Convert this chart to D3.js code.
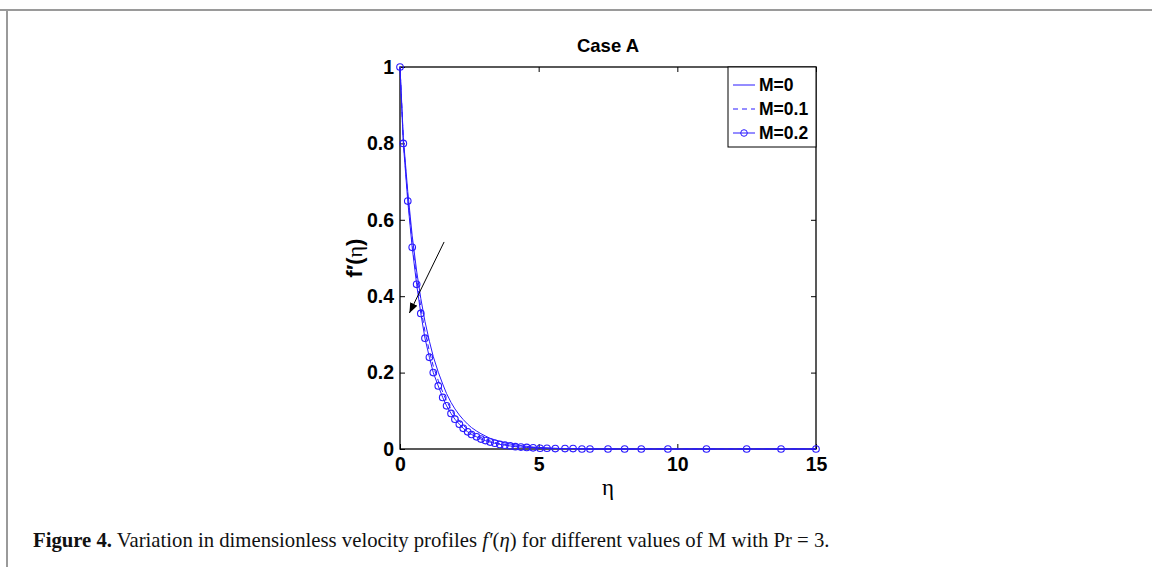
<!DOCTYPE html>
<html><head><meta charset="utf-8">
<script src="https://cdn.jsdelivr.net/npm/d3@7"></script>
<style>
html,body{margin:0;padding:0;background:#fff;}
svg{display:block;}
</style></head>
<body>
<svg id="chart" width="1152" height="567"></svg>
<script>
// ---- data ----
const eta = [0, 0.12, 0.28, 0.44, 0.60, 0.75, 0.90, 1.06, 1.20, 1.38, 1.54, 1.68, 1.84, 1.98, 2.14, 2.28, 2.44, 2.58, 2.76, 2.92, 3.08, 3.25, 3.42, 3.60, 3.78, 3.97, 4.16, 4.36, 4.57, 4.80, 5.05, 5.30, 5.60, 5.95, 6.24, 6.56, 6.85, 7.50, 8.10, 8.70, 9.66, 11.05, 12.50, 13.74, 15.00];
const fM0  = [1, 0.815, 0.674, 0.558, 0.466, 0.394, 0.334, 0.282, 0.242, 0.201, 0.170, 0.145, 0.122, 0.105, 0.089, 0.077, 0.065, 0.056, 0.047, 0.040, 0.034, 0.028, 0.024, 0.020, 0.016, 0.013, 0.011, 0.009, 0.007, 0.005, 0.004, 0.003, 0.002, 0.001, 0.001, 0.001, 0, 0, 0, 0, 0, 0, 0, 0, 0];
const fM01 = [1, 0.807, 0.660, 0.541, 0.446, 0.371, 0.308, 0.256, 0.217, 0.179, 0.149, 0.125, 0.104, 0.088, 0.073, 0.062, 0.052, 0.044, 0.036, 0.030, 0.025, 0.021, 0.017, 0.014, 0.012, 0.009, 0.008, 0.006, 0.005, 0.004, 0.003, 0.002, 0.001, 0.001, 0.001, 0, 0, 0, 0, 0, 0, 0, 0, 0, 0];
const fM02 = [1, 0.800, 0.649, 0.528, 0.431, 0.355, 0.290, 0.240, 0.200, 0.165, 0.135, 0.113, 0.093, 0.078, 0.065, 0.054, 0.045, 0.038, 0.032, 0.026, 0.022, 0.018, 0.015, 0.012, 0.010, 0.008, 0.006, 0.005, 0.004, 0.003, 0.002, 0.002, 0.001, 0.001, 0.001, 0, 0, 0, 0, 0, 0, 0, 0, 0, 0];
const seriesNames = ["M=0", "M=0.1", "M=0.2"];
const xTicks = [0, 5, 10, 15];
const yTicks = [0, 0.2, 0.4, 0.6, 0.8, 1];
const yTickLabels = ["0", "0.2", "0.4", "0.6", "0.8", "1"];
const arrowFrom = [1.59, 0.542];
const arrowTo = [0.34, 0.356];
const titleText = "Case A";

// ---- layout ----
const svg = d3.select("#chart");
const L = 400, R = 816, T = 67, B = 449;
const x = d3.scaleLinear().domain([0, 15]).range([L, R]);
const y = d3.scaleLinear().domain([0, 1]).range([B, T]);
const blue = "#2a1aff";
const helv = "'Liberation Sans', Arial, Helvetica, sans-serif";
const serif = "'Liberation Serif', 'Times New Roman', serif";

// figure frame (gray)
svg.append("line").attr("x1", 0).attr("x2", 1152).attr("y1", 10).attr("y2", 10).attr("stroke", "#9a9a9a").attr("stroke-width", 2);
svg.append("line").attr("x1", 7).attr("x2", 7).attr("y1", 9).attr("y2", 567).attr("stroke", "#9a9a9a").attr("stroke-width", 2);

// axes box
const g = svg.append("g");
g.append("rect").attr("x", L).attr("y", T).attr("width", R - L).attr("height", B - T)
  .attr("fill", "none").attr("stroke", "#000").attr("stroke-width", 1.3);

const tickLen = 5;
const xb = d3.axisBottom(x).tickValues(xTicks).tickSizeInner(-tickLen).tickSizeOuter(0).tickPadding(8).tickFormat(d3.format("d"));
const xt = d3.axisTop(x).tickValues(xTicks).tickSizeInner(-tickLen).tickSizeOuter(0).tickFormat("");
const yl = d3.axisLeft(y).tickValues(yTicks).tickSizeInner(-tickLen).tickSizeOuter(0).tickPadding(6).tickFormat((d, i) => yTickLabels[i]);
const yr = d3.axisRight(y).tickValues(yTicks).tickSizeInner(-tickLen).tickSizeOuter(0).tickFormat("");

function styleAxis(sel) {
  sel.select(".domain").remove();
  sel.selectAll(".tick line").attr("stroke", "#000").attr("stroke-width", 1);
  sel.selectAll(".tick text").attr("font-family", helv).attr("font-weight", "bold").attr("font-size", 19.5).attr("fill", "#000");
}
g.append("g").attr("transform", `translate(0,${B})`).call(xb).call(styleAxis);
g.append("g").attr("transform", `translate(0,${T})`).call(xt).call(styleAxis);
g.append("g").attr("transform", `translate(${L},0)`).call(yl).call(styleAxis);
g.append("g").attr("transform", `translate(${R},0)`).call(yr).call(styleAxis);

// curves
const line = d3.line().x(d => x(d[0])).y(d => y(d[1]));
const s0 = eta.map((e, i) => [e, fM0[i]]);
const s1 = eta.map((e, i) => [e, fM01[i]]);
const s2 = eta.map((e, i) => [e, fM02[i]]);
g.append("path").attr("d", line(s0)).attr("fill", "none").attr("stroke", blue).attr("stroke-width", 1);
g.append("path").attr("d", line(s1)).attr("fill", "none").attr("stroke", blue).attr("stroke-width", 1).attr("stroke-dasharray", "5,4");
g.append("path").attr("d", line(s2)).attr("fill", "none").attr("stroke", blue).attr("stroke-width", 1);
g.selectAll("circle.m").data(s2).join("circle").attr("class", "m")
  .attr("cx", d => x(d[0])).attr("cy", d => y(d[1])).attr("r", 3.3)
  .attr("fill", "none").attr("stroke", blue).attr("stroke-width", 1.1);

// arrow
svg.append("defs").append("marker").attr("id", "ah").attr("viewBox", "0 0 10 10")
  .attr("refX", 10).attr("refY", 5).attr("markerWidth", 10).attr("markerHeight", 10)
  .attr("markerUnits", "userSpaceOnUse").attr("orient", "auto")
  .append("path").attr("d", "M0,1 L10,5 L0,9 Z").attr("fill", "#000");
g.append("line").attr("x1", x(arrowFrom[0])).attr("y1", y(arrowFrom[1]))
  .attr("x2", x(arrowTo[0])).attr("y2", y(arrowTo[1]))
  .attr("stroke", "#000").attr("stroke-width", 1).attr("marker-end", "url(#ah)");

// legend
const lg = g.append("g");
lg.append("rect").attr("x", 728).attr("y", T).attr("width", R - 728).attr("height", 80)
  .attr("fill", "#fff").attr("stroke", "#000").attr("stroke-width", 1);
seriesNames.forEach((name, i) => {
  const yy = 85 + i * 24;
  const ln = lg.append("line").attr("x1", 733).attr("x2", 755).attr("y1", yy).attr("y2", yy)
    .attr("stroke", blue).attr("stroke-width", 1);
  if (i === 1) ln.attr("stroke-dasharray", "5,4");
  if (i === 2) lg.append("circle").attr("cx", 744).attr("cy", yy).attr("r", 3.3).attr("fill", "none").attr("stroke", blue);
  lg.append("text").attr("x", 759).attr("y", yy + 6).text(name)
    .attr("font-family", helv).attr("font-weight", "bold").attr("font-size", 17.5);
});

// title
svg.append("text").attr("x", (L + R) / 2).attr("y", 52).attr("text-anchor", "middle")
  .attr("font-family", helv).attr("font-weight", "bold").attr("font-size", 18.5).text(titleText);

// x label
svg.append("text").attr("x", (L + R) / 2).attr("y", 495).attr("text-anchor", "middle")
  .attr("font-family", serif).attr("font-size", 23).text("η");

// y label
const ylab = svg.append("text").attr("transform", `translate(362,${(T + B) / 2}) rotate(-90)`)
  .attr("text-anchor", "middle").attr("font-size", 22).attr("font-family", helv);
ylab.append("tspan").attr("font-weight", "bold").text("f′");
ylab.append("tspan").attr("font-weight", "bold").text("(");
ylab.append("tspan").attr("font-family", serif).text("η");
ylab.append("tspan").attr("font-weight", "bold").text(")");

// caption
const cap = svg.append("text").attr("x", 33).attr("y", 547).attr("font-family", serif).attr("font-size", 18).attr("fill", "#111");
cap.append("tspan").attr("font-weight", "bold").text("Figure 4.");
cap.append("tspan").text(" Variation in dimensionless velocity profiles ");
cap.append("tspan").attr("font-style", "italic").text("f′");
cap.append("tspan").text("(");
cap.append("tspan").attr("font-style", "italic").text("η");
cap.append("tspan").text(") for different values of M with Pr = 3.");
const w = cap.node().getComputedTextLength();
cap.attr("font-size", 18 * 797 / w);
</script>
</body></html>
